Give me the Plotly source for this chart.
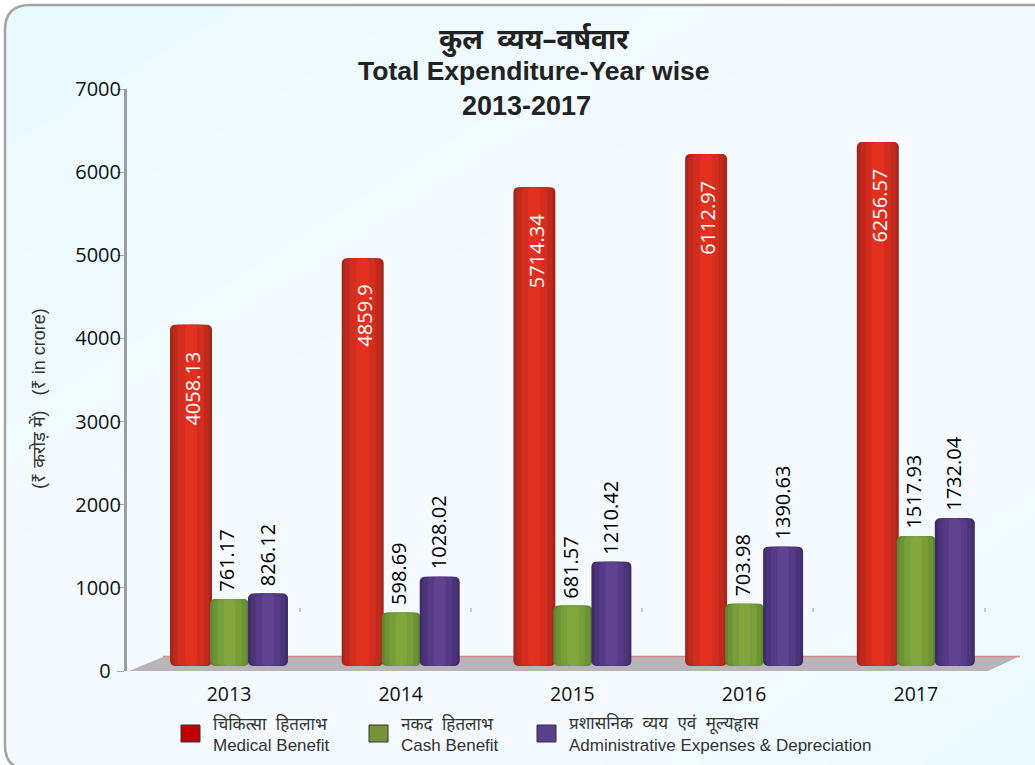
import plotly.graph_objects as go

years = ["2013", "2014", "2015", "2016", "2017"]
medical = [4058.13, 4859.9, 5714.34, 6112.97, 6256.57]
cash = [761.17, 598.69, 681.57, 703.98, 1517.93]
admin = [826.12, 1028.02, 1210.42, 1390.63, 1732.04]
y_ticks = [0, 1000, 2000, 3000, 4000, 5000, 6000, 7000]
y_labels = ["0\u00a0\u00a0", "1000", "2000", "3000", "4000", "5000", "6000", "7000"]

W, H = 1035, 765
L, R, T, B = 127, 1007, 89, 671
X0, STEP = 229.0, 171.7
BASE, LIFT = 60, 45


def xp(px):
    return (px - L) / (R - L)


def yp(py):
    return (B - py) / (B - T)


def poly(points):
    return "M " + " L ".join(f"{xp(a):.5f},{yp(b):.5f}" for a, b in points) + " Z"


fig = go.Figure()
xs = list(range(len(years)))
bands = [(1.0, 0), (0.86, 1), (0.62, 2), (0.3, 3)]
series = [
    ("Medical", medical, -38 / STEP, 42 / STEP, ["#a5271b", "#bf2a1c", "#d22d1e", "#e2311f"]),
    ("Cash", cash, 0.5 / STEP, 39 / STEP, ["#5f8630", "#6c9434", "#779e38", "#80a63c"]),
    ("Admin", admin, 39 / STEP, 40 / STEP, ["#3f2c68", "#4b3478", "#553b86", "#5f4290"]),
]
for name, vals, centre, width, colors in series:
    for frac, k in bands:
        fig.add_bar(
            x=xs,
            y=[v + LIFT for v in vals],
            base=BASE,
            width=width * frac,
            offset=centre - width * frac / 2,
            marker=dict(color=colors[k], line_width=0, cornerradius=5),
            name=name,
            showlegend=False,
            hoverinfo="skip",
        )

ann = []
for name, vals, dx, color in [("m", medical, -36, "white"), ("c", cash, -2, "black"), ("a", admin, 38, "black")]:
    for i, v in enumerate(vals):
        inside = name == "m"
        ann.append(dict(
            x=i, y=v, xref="x", yref="y", text=str(v), textangle=-90, showarrow=False,
            xshift=dx, yshift=-16 if inside else 14,
            yanchor="top" if inside else "bottom",
            font=dict(family="Open Sans", size=20, color=color),
        ))


def label(px, py, text, size, color="#222", bold=False, family="Liberation Sans", anchor="left", angle=0):
    ann.append(dict(
        x=xp(px), y=yp(py), xref="paper", yref="paper", text=f"<b>{text}</b>" if bold else text,
        showarrow=False, xanchor=anchor, yanchor="middle", textangle=angle,
        font=dict(family=family, size=size, color=color),
    ))


label(534, 38, "कुल  व्यय–वर्षवार", 28, bold=True, family="Noto Sans, Liberation Sans", anchor="center")
label(533, 71, "Total Expenditure-Year wise", 26.5, bold=True, anchor="center")
label(526, 106, "2013-2017", 27, bold=True, anchor="center")
label(38, 399, "(₹ करोड़ में)   (₹ in crore)", 18, color="#333", family="Liberation Sans, Noto Sans", anchor="center", angle=-90)

legend = [
    (181, "चिकित्सा  हितलाभ", "Medical Benefit", "#c00000"),
    (369, "नकद  हितलाभ", "Cash Benefit", "#76933c"),
    (537, "प्रशासनिक  व्यय  एवं  मूल्यहृास", "Administrative Expenses & Depreciation", "#5b3f8c"),
]
FRAME = (f"M {xp(1040):.5f},{yp(5):.5f} L {xp(30):.5f},{yp(5):.5f} "
         f"Q {xp(5):.5f},{yp(5):.5f} {xp(5):.5f},{yp(30):.5f} "
         f"L {xp(5):.5f},{yp(745):.5f} Q {xp(5):.5f},{yp(768):.5f} {xp(25):.5f},{yp(768):.5f} "
         f"L {xp(1040):.5f},{yp(768):.5f} Z")
shapes = [
    dict(type="path", xref="paper", yref="paper", layer="below", line_width=0, fillcolor="#f4fafe", path=FRAME),
]
# soft tint towards the top-left and bottom-right corners of the panel
for leg in range(60, 560, 40):
    shapes.append(dict(type="path", xref="paper", yref="paper", layer="below", line_width=0,
                       fillcolor="rgba(205,238,250,0.02)",
                       path=f"M {xp(30):.5f},{yp(6):.5f} L {xp(30 + leg * 1.5):.5f},{yp(6):.5f} "
                            f"L {xp(6):.5f},{yp(6 + leg):.5f} L {xp(6):.5f},{yp(30):.5f} "
                            f"Q {xp(6):.5f},{yp(6):.5f} {xp(30):.5f},{yp(6):.5f} Z"))
    shapes.append(dict(type="path", xref="paper", yref="paper", layer="below", line_width=0,
                       fillcolor="rgba(205,238,250,0.015)",
                       path=poly([(1035, 765), (1035 - leg * 0.8, 765), (1035, 765 - leg * 0.6)])))
shapes += [
    dict(type="path", xref="paper", yref="paper", layer="below", line=dict(color="#a0a3a6", width=2.5),
         fillcolor="rgba(0,0,0,0)", path=FRAME),
    dict(type="path", xref="paper", yref="paper", layer="below", line_width=0, fillcolor="#b9b4b9",
         path=poly([(129, 671), (163, 657), (1020, 656), (988, 671)])),
    dict(type="line", xref="paper", yref="paper", layer="below", line=dict(color="#d8888a", width=1.5),
         x0=xp(163), x1=xp(1020), y0=yp(656.5), y1=yp(656.5)),
]
for c in [300, 471, 642, 813, 985]:
    shapes.append(dict(type="line", xref="paper", yref="paper", layer="below", line=dict(color="#999", width=1),
                       x0=xp(c), x1=xp(c), y0=yp(608), y1=yp(612)))
for px, hindi, eng, col in legend:
    shapes.append(dict(type="rect", xref="paper", yref="paper", line=dict(color="#333", width=1), fillcolor=col,
                       x0=xp(px), x1=xp(px + 19), y0=yp(725), y1=yp(742)))
    label(px + 30, 724, hindi, 17, color="#333", family="Liberation Sans, Noto Sans")
    label(px + 30, 745, eng, 17, color="#333")

fig.update_layout(
    width=W, height=H, autosize=False,
    margin=dict(l=L, r=W - R, t=T, b=H - B, pad=0),
    paper_bgcolor="white", plot_bgcolor="rgba(0,0,0,0)",
    barmode="overlay", showlegend=False,
    shapes=shapes, annotations=ann,
    xaxis=dict(
        range=[(L - X0) / STEP, (R - X0) / STEP], tickmode="array", tickvals=xs, ticktext=years,
        showgrid=False, zeroline=False, showline=False, ticks="", ticklabelstandoff=9,
        tickfont=dict(family="Open Sans", size=19.5, color="#111"),
    ),
    yaxis=dict(
        range=[0, 7000], tickmode="array", tickvals=y_ticks, ticktext=y_labels, showgrid=False, zeroline=False,
        showline=True, linecolor="#9b9fa3", linewidth=3, ticks="outside", ticklen=7, tickcolor="#aaa", tickwidth=1,
        ticklabelstandoff=-8,
        tickfont=dict(family="Open Sans", size=20, color="#111"),
    ),
)
fig.write_html("out.html", post_script="document.body.style.margin='0';document.body.style.overflow='hidden';",
               config=dict(displayModeBar=False))
